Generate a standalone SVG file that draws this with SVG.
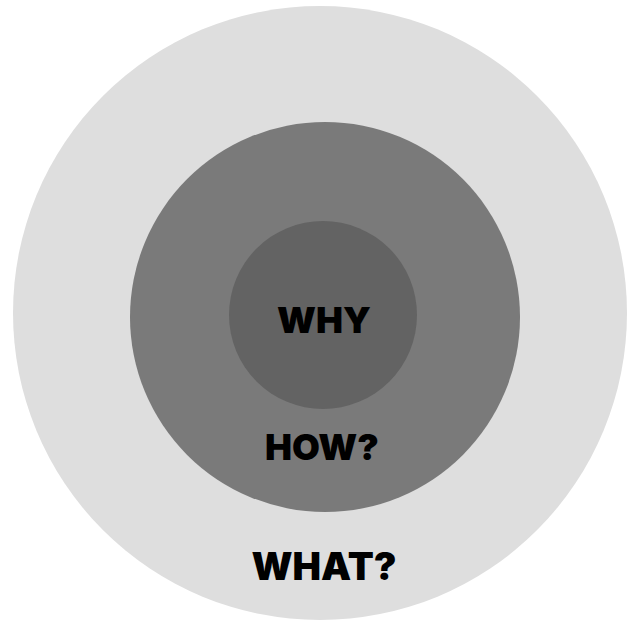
<svg xmlns="http://www.w3.org/2000/svg" width="628" height="623" viewBox="0 0 628 623">
<style>
.lbl{font-family:Inter,"Liberation Sans",sans-serif;font-weight:900;fill:#000000;text-anchor:middle}
</style>
<rect width="628" height="623" fill="#ffffff"/>
<g id="what">
<circle cx="320" cy="313" r="307" fill="#dedede"/>
<text class="lbl" x="324" y="580" font-size="38">WHAT?</text>
</g>
<g id="how">
<circle cx="325" cy="317" r="195" fill="#7a7a7a"/>
<text class="lbl" x="322" y="460" font-size="36">HOW?</text>
</g>
<g id="why">
<circle cx="323" cy="315" r="94" fill="#636363"/>
<text class="lbl" x="324" y="333" font-size="36">WHY</text>
</g>
<g id="connectors"/>
</svg>
